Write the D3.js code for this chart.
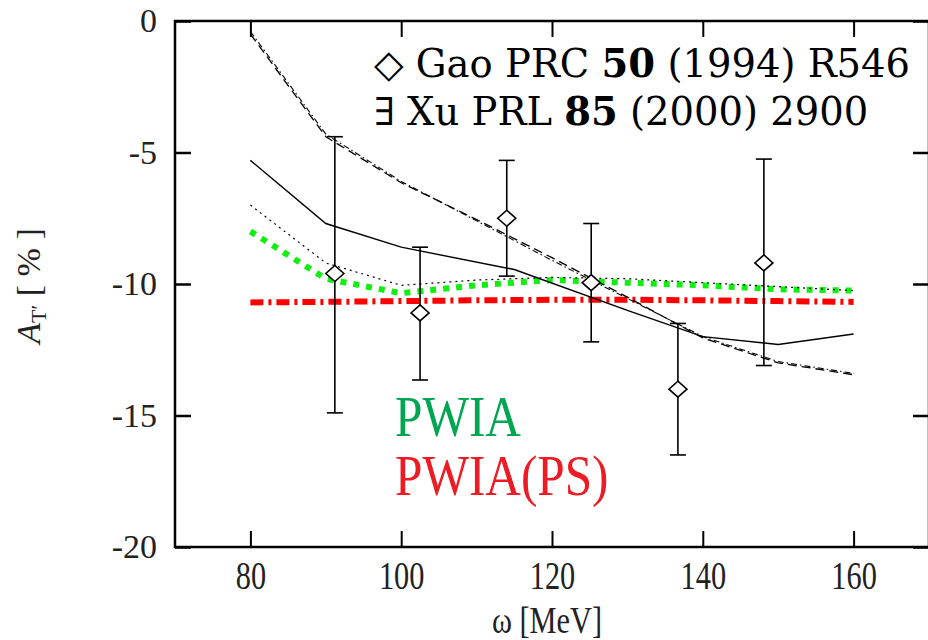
<!DOCTYPE html>
<html>
<head>
<meta charset="utf-8">
<script src="https://cdn.jsdelivr.net/npm/d3@7"></script>
<style>
  body { margin: 0; background: #fff; }
  svg { display: block; }
</style>
</head>
<body>
<div id="chart"></div>
<script>
// measured points (diamonds with error bars)
const dataOmega = [91.2, 102.5, 114.0, 125.2, 136.7, 148.1];
const dataA = [-9.6, -11.1, -7.5, -9.95, -14.0, -9.2];
const dataHi = [-4.4, -8.6, -5.3, -7.7, -11.5, -5.25];
const dataLo = [-14.9, -13.65, -9.7, -12.2, -16.5, -13.1];

// theory curves
const solidOmega = [80, 90, 100, 115, 130, 140, 150, 160];
const solidA = [-5.3, -7.7, -8.6, -9.45, -11.0, -12.0, -12.3, -11.9];

const gridOmega = [80, 90, 100, 110, 120, 130, 140, 150, 160];
const dashedA = [-0.5, -4.4, -6.15, -7.55, -9.0, -10.5, -12.05, -13.0, -13.45];
const dashDotA = [-0.4, -4.3, -6.1, -7.6, -9.1, -10.55, -12.0, -12.95, -13.4];
const dottedA = [-7.0, -9.2, -10.05, -9.85, -9.75, -9.8, -9.95, -10.1, -10.25];
const pwiaA = [-8.0, -9.8, -10.35, -10.05, -9.85, -9.95, -10.05, -10.2, -10.25];
const pwiaPsA = [-10.7, -10.68, -10.65, -10.62, -10.6, -10.6, -10.62, -10.65, -10.68];

const xTicks = [80, 100, 120, 140, 160];
const yTicks = [0, -5, -10, -15, -20];

const width = 928, height = 640;
const mLeft = 175, mRight = 929, mTop = 21, mBottom = 547;

const svg = d3.select("#chart").append("svg")
    .attr("width", width)
    .attr("height", height);

const x = d3.scaleLinear().domain([70, 170]).range([mLeft, mRight]);
const y = d3.scaleLinear().domain([-20, 0]).range([mBottom, mTop]);

// ticks (inward) on all four sides
const tickLen = 16;

svg.append("g")
    .attr("transform", `translate(0,${mBottom})`)
    .call(d3.axisBottom(x).tickValues(xTicks).tickSize(-tickLen).tickPadding(13).tickFormat(d => String(d)))
    .call(g => g.select(".domain").remove())
    .call(g => g.selectAll("line").attr("stroke-width", 2))
    .call(g => g.selectAll("text")
        .attr("font-family", "Liberation Serif, serif")
        .attr("font-size", 41)
        .attr("fill", "#222")
        .attr("transform", "scale(0.74,1)"));

svg.append("g")
    .attr("transform", `translate(0,${mTop})`)
    .call(d3.axisTop(x).tickValues(xTicks).tickSize(-tickLen).tickFormat(""))
    .call(g => g.select(".domain").remove())
    .call(g => g.selectAll("line").attr("stroke-width", 2));

svg.append("g")
    .attr("transform", `translate(${mLeft},0)`)
    .call(d3.axisLeft(y).tickValues(yTicks).tickSize(-tickLen).tickPadding(18).tickFormat(d => String(d)))
    .call(g => g.select(".domain").remove())
    .call(g => g.selectAll("line").attr("stroke-width", 2.5))
    .call(g => g.selectAll("text")
        .attr("font-family", "Liberation Serif, serif")
        .attr("font-size", 34)
        .attr("fill", "#222"));

svg.append("g")
    .attr("transform", `translate(${mRight},0)`)
    .call(d3.axisRight(y).tickValues(yTicks).tickSize(-tickLen).tickFormat(""))
    .call(g => g.select(".domain").remove())
    .call(g => g.selectAll("line").attr("stroke-width", 2.5));

// frame
svg.append("rect")
    .attr("x", mLeft).attr("y", mTop)
    .attr("width", mRight - mLeft).attr("height", mBottom - mTop)
    .attr("fill", "none")
    .attr("stroke", "#000")
    .attr("stroke-width", 2.5);

const plot = svg.append("g");

const line = d3.line().x(d => x(d[0])).y(d => y(d[1]));
const zip = (xs, ys) => xs.map((v, i) => [v, ys[i]]);

const curves = [
    { xs: gridOmega, ys: pwiaPsA, color: "#ff0000", w: 6, dash: "13,5,3,5" },
    { xs: gridOmega, ys: pwiaA, color: "#11ee11", w: 6, dash: "6,7" },
    { xs: gridOmega, ys: dottedA, color: "#000", w: 1.2, dash: "2,4" },
    { xs: gridOmega, ys: dashedA, color: "#000", w: 1.3, dash: "9,5" },
    { xs: gridOmega, ys: dashDotA, color: "#000", w: 1.1, dash: "6,3,1.5,3" },
    { xs: solidOmega, ys: solidA, color: "#000", w: 1.4, dash: null }
];

plot.selectAll("path.curve")
    .data(curves)
    .enter()
    .append("path")
    .classed("curve", true)
    .attr("d", d => line(zip(d.xs, d.ys)))
    .attr("fill", "none")
    .attr("stroke", d => d.color)
    .attr("stroke-width", d => d.w)
    .attr("stroke-dasharray", d => d.dash);

// error bars
const pts = dataOmega.map((w, i) => ({ w: w, a: dataA[i], hi: dataHi[i], lo: dataLo[i] }));
const bars = plot.selectAll("g.pt").data(pts).enter().append("g").classed("pt", true)
    .attr("stroke", "#000").attr("stroke-width", 1.6).attr("fill", "none");

bars.append("line")
    .attr("x1", d => x(d.w)).attr("x2", d => x(d.w))
    .attr("y1", d => y(d.hi)).attr("y2", d => y(d.lo));
bars.append("line")
    .attr("x1", d => x(d.w) - 8).attr("x2", d => x(d.w) + 8)
    .attr("y1", d => y(d.hi)).attr("y2", d => y(d.hi));
bars.append("line")
    .attr("x1", d => x(d.w) - 8).attr("x2", d => x(d.w) + 8)
    .attr("y1", d => y(d.lo)).attr("y2", d => y(d.lo));
bars.append("path")
    .attr("d", d => {
        const cx = x(d.w), cy = y(d.a);
        return `M${cx},${cy - 8}L${cx + 9},${cy}L${cx},${cy + 8}L${cx - 9},${cy}Z`;
    })
    .attr("fill", "#fff");

// legend
const legend = svg.append("g")
    .attr("font-family", "DejaVu Serif, serif")
    .attr("font-size", 38.5)
    .attr("fill", "#000");

const l1 = legend.append("text").attr("x", 374).attr("y", 77);
l1.append("tspan").text("\u25C7 Gao PRC ");
l1.append("tspan").attr("font-weight", "bold").text("50");
l1.append("tspan").text(" (1994) R546");

const l2 = legend.append("text").attr("x", 374).attr("y", 125);
l2.append("tspan").text("\u2203 Xu PRL ");
l2.append("tspan").attr("font-weight", "bold").text("85");
l2.append("tspan").text(" (2000) 2900");

svg.append("text")
    .attr("transform", "translate(395,436) scale(0.88,1)")
    .attr("font-family", "Liberation Serif, serif")
    .attr("font-size", 56)
    .attr("fill", "#00a651")
    .text("PWIA");

svg.append("text")
    .attr("transform", "translate(395,495) scale(0.88,1)")
    .attr("font-family", "Liberation Serif, serif")
    .attr("font-size", 56)
    .attr("fill", "#ed1c24")
    .text("PWIA(PS)");

// axis titles
svg.append("text")
    .attr("transform", "translate(547,633) scale(0.82,1)")
    .attr("text-anchor", "middle")
    .attr("font-family", "Liberation Serif, serif")
    .attr("font-size", 37)
    .attr("fill", "#222")
    .text("\u03C9 [MeV]");

const yl = svg.append("text")
    .attr("transform", "translate(40,286) rotate(-90)")
    .attr("text-anchor", "middle")
    .attr("font-family", "Liberation Serif, serif")
    .attr("font-size", 34)
    .attr("fill", "#222");
yl.append("tspan").attr("font-style", "italic").text("A");
yl.append("tspan").attr("font-size", 22).attr("dy", 6).text("T\u2032");
yl.append("tspan").attr("dy", -6).text(" [ % ]");
</script>
</body>
</html>
